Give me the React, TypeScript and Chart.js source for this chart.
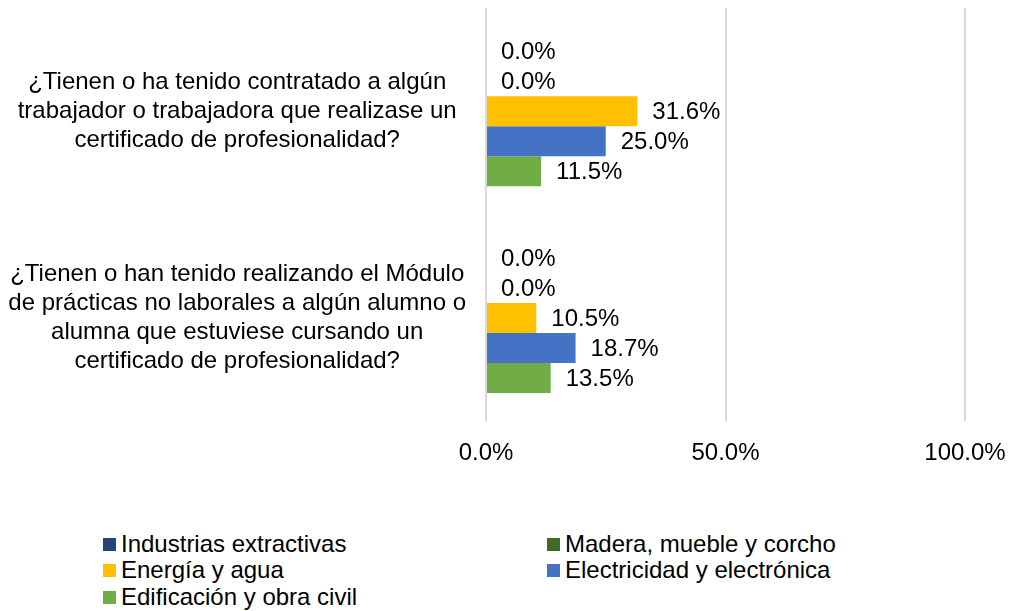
import React, { useEffect, useRef } from "react";
import { Chart, registerables } from "chart.js";

Chart.register(...registerables);

const categories: string[][] = [
  ["¿Tienen o ha tenido contratado a algún", "trabajador o trabajadora que realizase un", "certificado de profesionalidad?"],
  ["¿Tienen o han tenido realizando el Módulo", "de prácticas no laborales a algún alumno o", "alumna que estuviese cursando un", "certificado de profesionalidad?"],
];

const seriesNames = [
  "Industrias extractivas",
  "Madera, mueble y corcho",
  "Energía y agua",
  "Electricidad y electrónica",
  "Edificación y obra civil",
];
const seriesColors = ["#264478", "#43682B", "#FFC000", "#4472C4", "#70AD47"];

const industriasExtractivas = [0.0, 0.0];
const maderaMuebleCorcho = [0.0, 0.0];
const energiaAgua = [31.6, 10.5];
const electricidadElectronica = [25.0, 18.7];
const edificacionObraCivil = [11.5, 13.5];

const seriesValues = [
  industriasExtractivas,
  maderaMuebleCorcho,
  energiaAgua,
  electricidadElectronica,
  edificacionObraCivil,
];

const xTicks = [0, 50, 100];

const FONT = "'Liberation Sans', Arial, sans-serif";

const valueLabels = {
  id: "valueLabels",
  afterDatasetsDraw(chart: any) {
    const ctx = chart.ctx;
    ctx.save();
    ctx.font = `24px ${FONT}`;
    ctx.fillStyle = "#000000";
    ctx.textAlign = "left";
    ctx.textBaseline = "middle";
    chart.data.datasets.forEach((ds: any, di: number) => {
      const meta = chart.getDatasetMeta(di);
      meta.data.forEach((el: any, i: number) => {
        const v = ds.data[i] as number;
        ctx.fillText(v.toFixed(1) + "%", el.x + 15, el.y + 1);
      });
    });
    ctx.restore();
  },
};

export default function App() {
  const ref = useRef<HTMLCanvasElement | null>(null);
  useEffect(() => {
    if (!ref.current) return;
    const chart = new Chart(ref.current, {
      type: "bar",
      data: {
        labels: categories,
        datasets: seriesNames.map((n, i) => ({
          label: n,
          data: seriesValues[i],
          backgroundColor: seriesColors[i],
          borderWidth: 0,
          categoryPercentage: 0.726,
          barPercentage: 1,
        })),
      },
      options: {
        indexAxis: "y",
        animation: false,
        responsive: false,
        maintainAspectRatio: false,
        layout: { padding: { top: 8, right: 44, left: 0, bottom: 0 } },
        plugins: {
          legend: { display: false },
          tooltip: { enabled: false },
        },
        scales: {
          x: {
            min: 0,
            max: 100,
            afterBuildTicks: (scale: any) => {
              scale.ticks = xTicks.map((v) => ({ value: v }));
            },
            afterFit: (scale: any) => {
              scale.paddingLeft = 0;
              scale.paddingRight = 0;
            },
            ticks: {
              callback: (v: any) => Number(v).toFixed(1) + "%",
              color: "#000000",
              font: { family: FONT, size: 24, lineHeight: 1.2 },
              padding: 18,
              maxRotation: 0,
            },
            grid: { color: "#d9d9d9", lineWidth: 2, drawTicks: false },
            border: { display: false },
          },
          y: {
            afterFit: (scale: any) => {
              scale.width = 486;
              scale.paddingTop = 0;
              scale.paddingBottom = 0;
            },
            ticks: {
              crossAlign: "center",
              color: "#000000",
              font: { family: FONT, size: 24, lineHeight: 1.22 },
              padding: 12,
            },
            grid: { display: false },
            border: { display: false },
          },
        },
      },
      plugins: [valueLabels],
    });
    return () => chart.destroy();
  }, []);

  const legendItem = (i: number, left: number, top: number) => (
    <div
      key={i}
      style={{
        position: "absolute",
        left,
        top,
        display: "flex",
        alignItems: "center",
        fontFamily: FONT,
        fontSize: 24,
        color: "#000",
        whiteSpace: "nowrap",
        lineHeight: "26px",
        height: 26,
      }}
    >
      <span style={{ display: "inline-block", width: 13, height: 13, background: seriesColors[i], marginRight: 5 }} />
      {seriesNames[i]}
    </div>
  );

  return (
    <div style={{ position: "absolute", left: 0, top: 0, width: 1009, height: 611, background: "#fff" }}>
      <canvas ref={ref} width={1009} height={486} style={{ position: "absolute", left: 0, top: 0 }} />
      {legendItem(0, 103, 531)}
      {legendItem(1, 547, 531)}
      {legendItem(2, 103, 557)}
      {legendItem(3, 547, 557)}
      {legendItem(4, 103, 584)}
    </div>
  );
}
